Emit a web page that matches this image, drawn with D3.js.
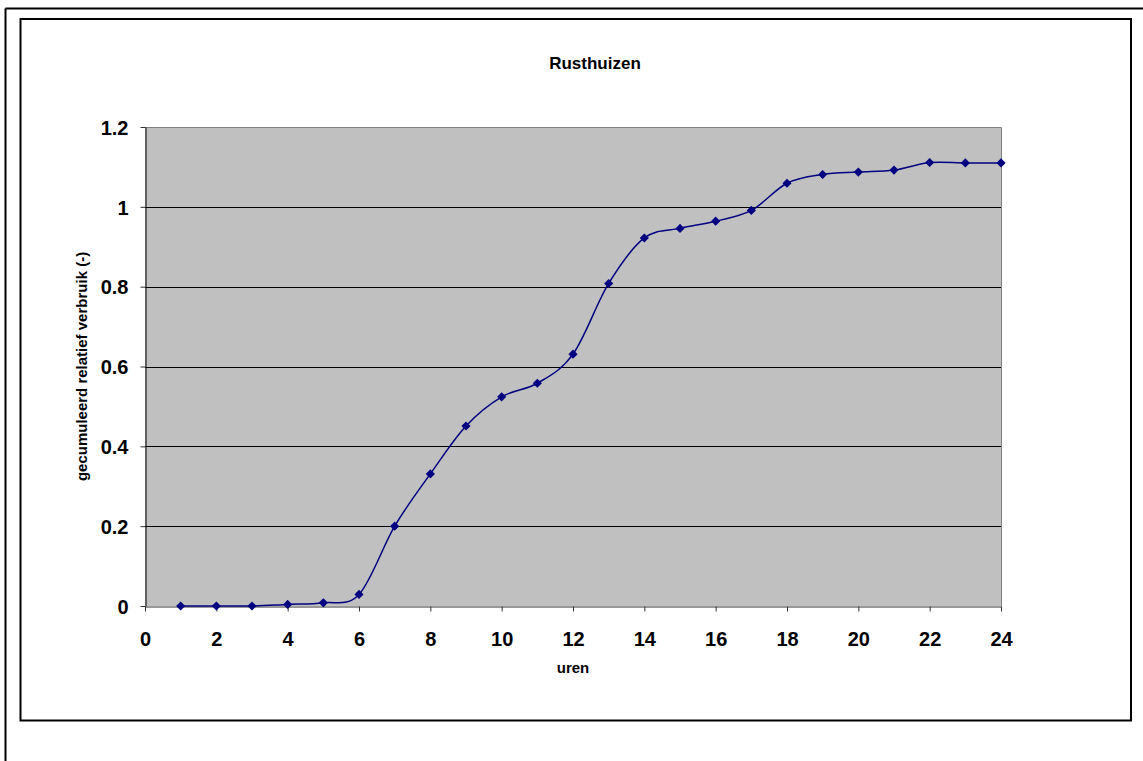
<!DOCTYPE html>
<html>
<head>
<meta charset="utf-8">
<script src="https://cdn.jsdelivr.net/npm/d3@7"></script>
<style>
  html, body { margin: 0; padding: 0; background: #ffffff; }
  svg { display: block; font-family: "Liberation Sans", Arial, sans-serif; }
</style>
</head>
<body>
<svg id="chart" width="1143" height="761"></svg>
<script>
// Hour of the day and the cumulative relative consumption at that hour
const hours = [1, 2, 3, 4, 5, 6, 7, 8, 9, 10, 11, 12, 13, 14, 15, 16, 17, 18, 19, 20, 21, 22, 23, 24];
const cumulative = [0, 0, 0, 0.004, 0.008, 0.029, 0.200, 0.331, 0.451, 0.524, 0.558, 0.631,
                    0.808, 0.922, 0.946, 0.964, 0.991, 1.059, 1.081, 1.087, 1.092, 1.111, 1.110, 1.110];
const xTicks = [0, 2, 4, 6, 8, 10, 12, 14, 16, 18, 20, 22, 24];
const yTicks = [0, 0.2, 0.4, 0.6, 0.8, 1, 1.2];
const chartTitle = "Rusthuizen";
const xTitle = "uren";
const yTitle = "gecumuleerd relatief verbruik (-)";

const svg = d3.select("#chart");

// Sheet edge lines and chart frame
svg.append("line").attr("x1", 5.5).attr("y1", 8.5).attr("x2", 1143).attr("y2", 8.5)
  .attr("stroke", "#000").attr("stroke-width", 2);
svg.append("line").attr("x1", 5.5).attr("y1", 8.5).attr("x2", 5.5).attr("y2", 761)
  .attr("stroke", "#000").attr("stroke-width", 2);
svg.append("rect").attr("x", 20.5).attr("y", 19).attr("width", 1110.5).attr("height", 701.5)
  .attr("fill", "#fff").attr("stroke", "#000").attr("stroke-width", 2);

const plot = { left: 145, top: 127, right: 1001, bottom: 606 };

const x = d3.scaleLinear().domain([0, 24]).range([plot.left, plot.right]);
const y = d3.scaleLinear().domain([0, 1.2]).range([plot.bottom, plot.top]);

// Plot background
svg.append("rect")
  .attr("x", plot.left).attr("y", plot.top)
  .attr("width", plot.right - plot.left).attr("height", plot.bottom - plot.top)
  .attr("fill", "#c0c0c0");

// Horizontal gridlines
svg.append("g")
  .selectAll("line")
  .data(yTicks.filter(v => v > 0 && v < 1.2))
  .join("line")
  .attr("x1", plot.left).attr("x2", plot.right)
  .attr("y1", d => Math.round(y(d)) + 0.5).attr("y2", d => Math.round(y(d)) + 0.5)
  .attr("stroke", "#000").attr("stroke-width", 1);

// Top and right edges of the plot area
svg.append("path")
  .attr("d", `M${plot.left},${plot.top + 0.5}H${plot.right + 0.5}V${plot.bottom}`)
  .attr("fill", "none").attr("stroke", "#808080").attr("stroke-width", 1);

// Axes
const xAxis = d3.axisBottom(x).tickValues(xTicks).tickSize(5).tickSizeOuter(0).tickFormat(d3.format("d"));
const yAxis = d3.axisLeft(y).tickValues(yTicks).tickSize(5).tickSizeOuter(0).tickFormat(d => String(d));

const gx = svg.append("g").attr("transform", `translate(0,${plot.bottom + 0.5})`).call(xAxis);
gx.select(".domain").attr("stroke", "#333");
gx.selectAll(".tick line").attr("stroke", "#333");
gx.selectAll(".tick text")
  .attr("y", 0).attr("dy", 0)
  .attr("transform", "translate(0,39)")
  .attr("fill", "#000")
  .style("font-size", "20px").style("font-weight", "bold")
  .style("font-family", "'Liberation Sans', Arial, sans-serif");

const gy = svg.append("g").attr("transform", `translate(${plot.left + 0.5},0)`).call(yAxis);
gy.select(".domain").attr("stroke", "#000");
gy.selectAll(".tick line").attr("stroke", "#333");
gy.selectAll(".tick text")
  .attr("x", -17).attr("dy", "0.36em")
  .attr("fill", "#000")
  .style("font-size", "20px").style("font-weight", "bold")
  .style("font-family", "'Liberation Sans', Arial, sans-serif");

// Smoothed cumulative line
const points = hours.map((h, i) => [h, cumulative[i]]);
const line = d3.line()
  .x(d => x(d[0]))
  .y(d => y(d[1]))
  .curve(d3.curveCatmullRom.alpha(0));

svg.append("path")
  .datum(points)
  .attr("d", line)
  .attr("fill", "none")
  .attr("stroke", "#000080")
  .attr("stroke-width", 1.5);

// Diamond markers
const diamond = d3.symbol().type(d3.symbolSquare).size(42);
svg.append("g")
  .selectAll("path")
  .data(points)
  .join("path")
  .attr("d", diamond)
  .attr("transform", d => `translate(${x(d[0])},${y(d[1])}) rotate(45)`)
  .attr("fill", "#000080");

// Titles
svg.append("text")
  .attr("x", 595).attr("y", 69)
  .attr("text-anchor", "middle")
  .style("font-size", "17px").style("font-weight", "bold")
  .text(chartTitle);

svg.append("text")
  .attr("x", 573).attr("y", 673)
  .attr("text-anchor", "middle")
  .style("font-size", "15px").style("font-weight", "bold")
  .text(xTitle);

svg.append("text")
  .attr("transform", `translate(87,${(plot.top + plot.bottom) / 2}) rotate(-90)`)
  .attr("text-anchor", "middle")
  .style("font-size", "15px").style("font-weight", "bold")
  .text(yTitle);
</script>
</body>
</html>
